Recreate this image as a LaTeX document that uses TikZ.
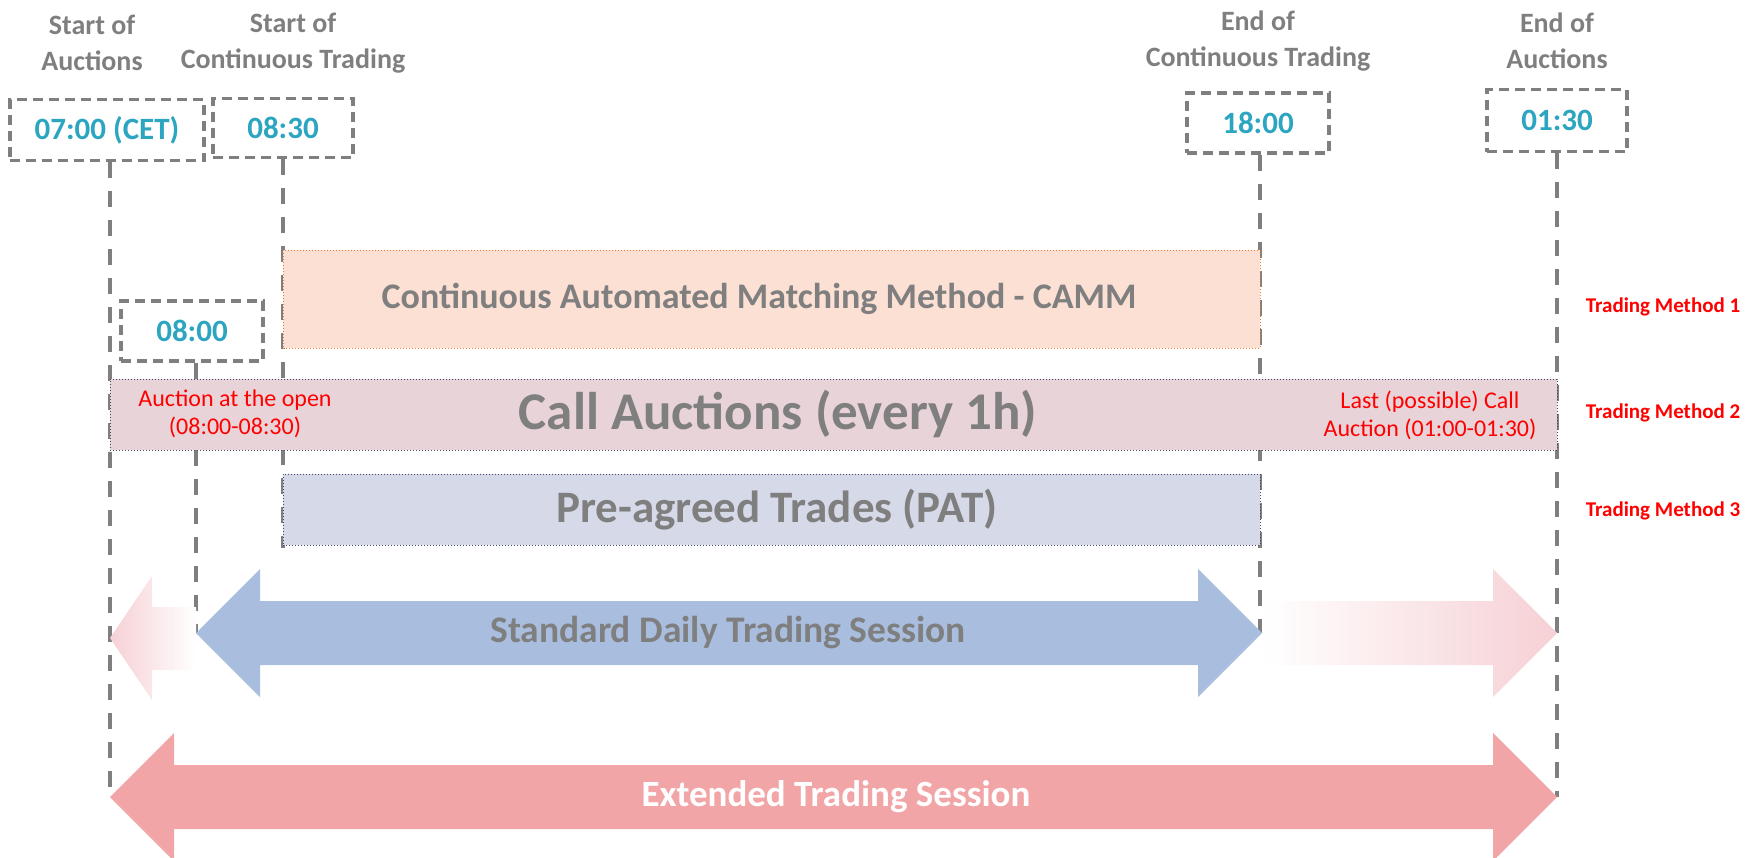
\documentclass[tikz,border=0pt]{standalone}
\usepackage{fontspec}
\setmainfont{Carlito}
\usepackage{tikz}
\usetikzlibrary{positioning}

\definecolor{dashgray}{RGB}{127,127,127}
\definecolor{timeblue}{RGB}{44,165,192}
\definecolor{cammfill}{RGB}{251,224,211}
\definecolor{cammline}{RGB}{237,125,49}
\definecolor{callfill}{RGB}{232,211,216}
\definecolor{patfill}{RGB}{214,218,232}
\definecolor{boxline}{RGB}{68,70,106}
\definecolor{stdblue}{RGB}{169,190,222}
\definecolor{extpink}{RGB}{242,165,167}
\definecolor{lightpink}{RGB}{246,208,212}

\tikzset{
  headlbl/.style={align=center, text=dashgray, font=\fontsize{28}{36}\selectfont\bfseries},
  timebox/.style={draw=dashgray, line width=3.5pt, dash pattern=on 10pt off 6pt,
    text=timeblue, font=\fontsize{31}{36}\selectfont\bfseries},
  vline/.style={draw=dashgray, line width=4pt, dash pattern=on 16pt off 13pt},
  band/.style={draw, dotted, line width=1pt},
  bandtxt/.style={text=dashgray, font=\fontsize{36}{42}\selectfont\bfseries},
  redtxt/.style={align=center, text=red, font=\fontsize{24}{28}\selectfont},
  methodlbl/.style={text=red, font=\fontsize{21}{24}\selectfont\bfseries}
}

\begin{document}
\begin{tikzpicture}[x=1pt, y=-1pt]
  \useasboundingbox (0,0) rectangle (1756,857);

  % column headers
  \node[headlbl] (hsa) at (92,43) {Start of\\Auctions};
  \node[headlbl] (hsc) at (293,43) {Start of\\Continuous Trading};
  \node[headlbl] (hec) at (1258,41) {End of\\Continuous Trading};
  \node[headlbl] (hea) at (1557,41) {End of\\Auctions};

  % time stamps
  \node[timebox, minimum width=194, minimum height=61] (t0700) at (107,130) {07:00 (CET)};
  \node[timebox, minimum width=140, minimum height=59] (t0830) at (283,128) {08:30};
  \node[timebox, minimum width=142, minimum height=60] (t1800) at (1258,123) {18:00};
  \node[timebox, minimum width=140, minimum height=62] (t0130) at (1557,120.5) {01:30};
  \node[timebox, minimum width=142, minimum height=60] (t0800) at (192,331) {08:00};

  % where the guide lines stop
  \coordinate (endsa) at (110,797);
  \coordinate (endop) at (196,633);
  \coordinate (endsc) at (283,548);
  \coordinate (endec) at (1260,633);
  \coordinate (endea) at (1557,797);

  \draw[vline] (t0700.south -| endsa) -- (endsa);
  \draw[vline] (t0800.south -| endop) -- (endop);
  \draw[vline] (t0830.south -| endsc) -- (endsc);
  \draw[vline] (t1800.south -| endec) -- (endec);
  \draw[vline] (t0130.south -| endea) -- (endea);

  % trading methods
  \node[band, draw=cammline, fill=cammfill, minimum width=977, minimum height=98] (camm) at (771.5,299) {};
  \node[bandtxt] at (759,299) {Continuous Automated Matching Method - CAMM};
  \node[band, draw=boxline, fill=callfill, minimum width=1447, minimum height=71] (call) at (833.5,414.5) {};
  \node[bandtxt, font=\fontsize{53}{58}\selectfont\bfseries] at (778,414) {Call Auctions (every 1h)};
  \node[band, draw=boxline, fill=patfill, minimum width=977, minimum height=71] (pat) at (771.5,509.5) {};
  \node[bandtxt, font=\fontsize{45}{50}\selectfont\bfseries] at (777,510) {Pre-agreed Trades (PAT)};

  \node[redtxt] (openlbl) at (235,414) {Auction at the open\\(08:00-08:30)};
  \node[redtxt] (lastlbl) at (1430,415) {Last (possible) Call\\Auction (01:00-01:30)};

  \node[methodlbl] (m1) at (1663,307) {Trading Method 1};
  \node[methodlbl] (m2) at (1663,413) {Trading Method 2};
  \node[methodlbl] (m3) at (1663,511) {Trading Method 3};

  % sessions
  \shade[left color=lightpink, right color=white]
    (110,638) -- (152,576) -- (152,607) -- (196,607) -- (196,670) -- (152,670) -- (152,700) -- cycle;
  \shade[left color=white, right color=lightpink]
    (1262,601) -- (1493,601) -- (1493,569) -- (1557,633) -- (1493,697) -- (1493,665) -- (1262,665) -- cycle;
  \fill[stdblue] (196,633) -- (260,569) -- (260,601) -- (1198,601) -- (1198,569) -- (1262,633)
    -- (1198,697) -- (1198,665) -- (260,665) -- (260,697) -- cycle;
  \node[bandtxt, font=\fontsize{37.5}{42}\selectfont\bfseries] (std) at (728,633) {Standard Daily Trading Session};
  \fill[extpink] (110,797) -- (174,733) -- (174,765) -- (1493,765) -- (1493,733) -- (1557,797)
    -- (1493,861) -- (1493,829) -- (174,829) -- (174,861) -- cycle;
  \node[bandtxt, text=white, font=\fontsize{37}{42}\selectfont\bfseries] (ext) at (836,797) {Extended Trading Session};
\end{tikzpicture}
\end{document}
